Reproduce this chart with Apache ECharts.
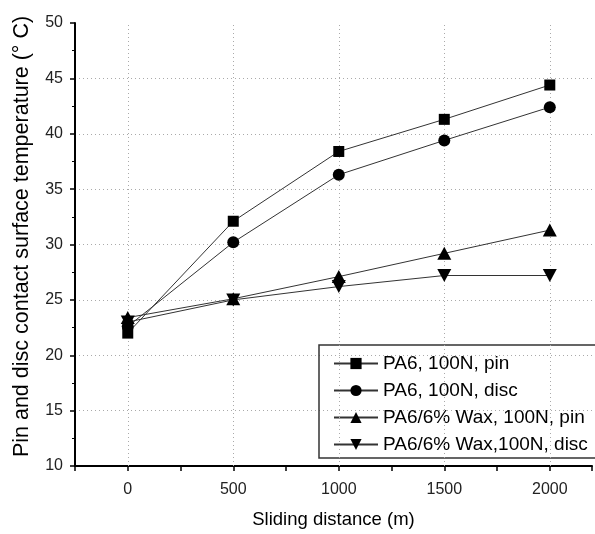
<!DOCTYPE html>
<html>
<head>
<meta charset="utf-8">
<script src="https://cdn.jsdelivr.net/npm/echarts@6/dist/echarts.min.js"></script>
<style>html,body{margin:0;padding:0;background:#fff;}#c{width:595px;height:534px;}</style>
</head>
<body>
<div id="c"></div>
<script>
const distances = [0, 500, 1000, 1500, 2000];
const pa6Pin = [22.0, 32.1, 38.4, 41.3, 44.4];
const pa6Disc = [22.6, 30.2, 36.3, 39.4, 42.4];
const waxPin = [23.4, 25.1, 27.1, 29.2, 31.3];
const waxDisc = [23.0, 25.0, 26.2, 27.2, 27.2];
const seriesNames = ['PA6, 100N, pin', 'PA6, 100N, disc', 'PA6/6% Wax, 100N, pin', 'PA6/6% Wax,100N, disc'];
const xGridValues = [0, 500, 1000, 1500, 2000];

const font = 'Liberation Sans, Arial, sans-serif';
function pts(vals){ return distances.map((d,i)=>[d, vals[i]]); }
const lineStyle = {color:'#333', width:1};
const itemStyle = {color:'#000'};
const dotted = {color:'#aaa', width:1, type:[1,3]};

const chart = echarts.init(document.getElementById('c'));
chart.setOption({
  animation:false,
  backgroundColor:'#fff',
  grid:{left:75, right:2, top:23, bottom:68},
  legend:{
    orient:'vertical', left:319, top:345,
    padding:[9,20,4,14],
    itemWidth:44, itemHeight:14, itemGap:8,
    borderColor:'#333', borderWidth:1.5,
    textStyle:{fontFamily:font, fontSize:19, lineHeight:19, color:'#000'},
    data:seriesNames
  },
  xAxis:{
    type:'value', min:-250, max:2200, interval:250,
    name:'Sliding distance (m)', nameLocation:'middle', nameGap:44,
    nameTextStyle:{fontFamily:font, fontSize:18.5, color:'#000'},
    axisLine:{onZero:false, lineStyle:{color:'#000', width:2}},
    axisTick:{show:true, length:5, lineStyle:{color:'#000', width:1.5}},
    axisLabel:{fontFamily:font, fontSize:16, color:'#222', margin:16,
      formatter:v => (v >= 0 && v % 500 === 0 && v <= 2000) ? String(v) : ''},
    splitLine:{show:false}
  },
  yAxis:{
    type:'value', min:10, max:50, interval:5,
    name:'Pin and disc contact surface temperature (° C)', nameLocation:'middle', nameGap:42,
    nameTextStyle:{fontFamily:font, fontSize:21.5, color:'#000', padding:[0,0,0,16]},
    axisLine:{show:true, onZero:false, lineStyle:{color:'#000', width:2}},
    axisTick:{show:true, length:5, lineStyle:{color:'#000', width:1.5}},
    minorTick:{show:true, splitNumber:2, length:3, lineStyle:{color:'#000', width:1}},
    axisLabel:{fontFamily:font, fontSize:16, color:'#222', margin:12},
    splitLine:{show:true, showMinLine:false, showMaxLine:false, lineStyle:dotted}
  },
  series:[
    {name:seriesNames[0], type:'line', data:pts(pa6Pin), symbol:'rect', symbolSize:11,
     lineStyle, itemStyle, z:5,
     markLine:{silent:true, symbol:'none', label:{show:false}, lineStyle:dotted,
       data:xGridValues.map(v=>({xAxis:v}))}},
    {name:seriesNames[1], type:'line', data:pts(pa6Disc), symbol:'circle', symbolSize:12,
     lineStyle, itemStyle, z:5},
    {name:seriesNames[2], type:'line', data:pts(waxPin), symbol:'triangle', symbolSize:[14,13],
     lineStyle, itemStyle, z:5},
    {name:seriesNames[3], type:'line', data:pts(waxDisc), symbol:'triangle', symbolRotate:180, symbolSize:[14,13],
     lineStyle, itemStyle, z:5}
  ]
});
</script>
</body>
</html>
